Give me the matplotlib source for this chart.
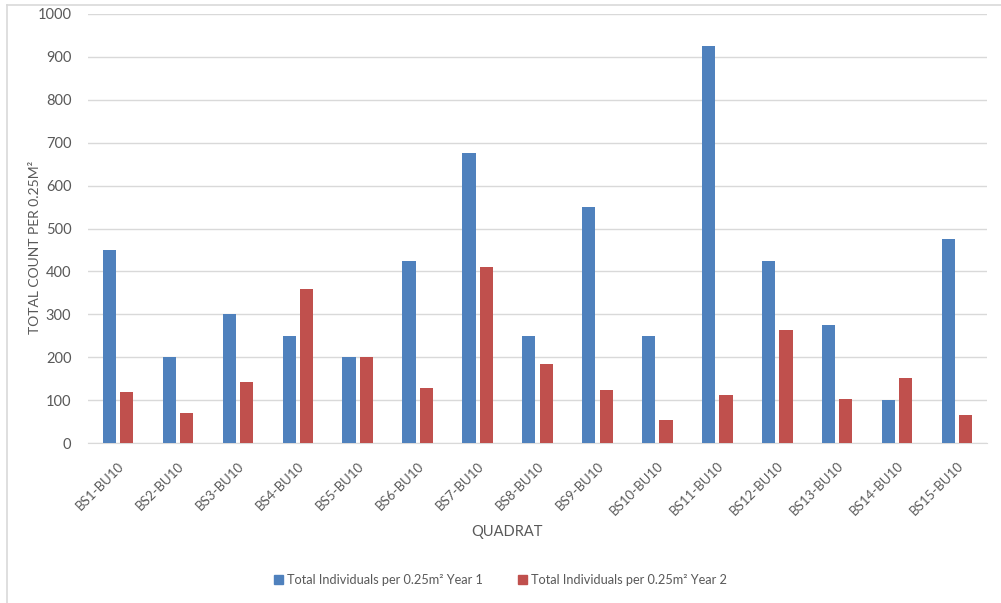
import matplotlib as mpl
mpl.use('agg')
import matplotlib.pyplot as plt
import numpy as np
from matplotlib.lines import Line2D

plt.rc('font', family=['Lato', 'DejaVu Sans'])

quadrats = ["BS%d-BU10" % i for i in range(1, 16)]
year1 = [450, 200, 300, 250, 200, 425, 675, 250, 550, 250, 925, 425, 275, 100, 475]
year2 = [119, 70, 143, 360, 200, 129, 410, 185, 124, 53, 113, 263, 104, 152, 66]
series_names = ["Total Individuals per 0.25m\u00b2 Year 1",
                "Total Individuals per 0.25m\u00b2 Year 2"]

blue = "#4F81BD"
red = "#C0504D"
grey_text = "#595959"

fig = plt.figure(figsize=(10.01, 6.03), dpi=100)
ax = fig.add_axes([0.088, 0.265, 0.898, 0.712])

x = np.arange(len(quadrats))
w = 0.22
gap = 0.07
ax.bar(x - (w + gap) / 2, year1, width=w, color=blue, label=series_names[0], zorder=3)
ax.bar(x + (w + gap) / 2, year2, width=w, color=red, label=series_names[1], zorder=3)

ax.set_xlim(-0.5, len(quadrats) - 0.5)
ax.set_ylim(0, 1000)
ax.set_yticks(np.arange(0, 1001, 100))
ax.yaxis.grid(True, color="#D9D9D9", linewidth=1, zorder=0)
for s in ["top", "right", "left"]:
    ax.spines[s].set_visible(False)
ax.spines["bottom"].set_color("#D9D9D9")
ax.tick_params(axis="both", length=0, colors=grey_text, labelsize=10.5)
ax.tick_params(axis="y", pad=12)

ax.set_xticks(x)
ax.set_xticklabels(quadrats, rotation=45, ha="right", va="top",
                   rotation_mode="anchor", fontsize=9.5)
ax.tick_params(axis="x", pad=12)

ax.set_ylabel("TOTAL COUNT PER 0.25M\u00b2", color=grey_text, fontsize=10)
ax.yaxis.set_label_coords(-0.052, 0.455)
ax.set_xlabel("QUADRAT", color=grey_text, fontsize=10.5)
ax.xaxis.set_label_coords(0.466, -0.19)

handles = [plt.Rectangle((0, 0), 1, 1, color=blue), plt.Rectangle((0, 0), 1, 1, color=red)]
leg = fig.legend(handles, series_names, loc="center", bbox_to_anchor=(0.5, 0.038),
                 ncol=2, frameon=False, fontsize=9.2, handlelength=0.7,
                 handleheight=0.7, handletextpad=0.3, columnspacing=2.8)
for t in leg.get_texts():
    t.set_color(grey_text)

# light frame around the chart area
fig.add_artist(Line2D([0.007, 1.0], [0.992, 0.992], color="#D9D9D9", lw=1.2,
                      transform=fig.transFigure))
fig.add_artist(Line2D([0.007, 0.007], [0.0, 0.992], color="#D9D9D9", lw=1.2,
                      transform=fig.transFigure))

fig.savefig("out.png", dpi=100)
